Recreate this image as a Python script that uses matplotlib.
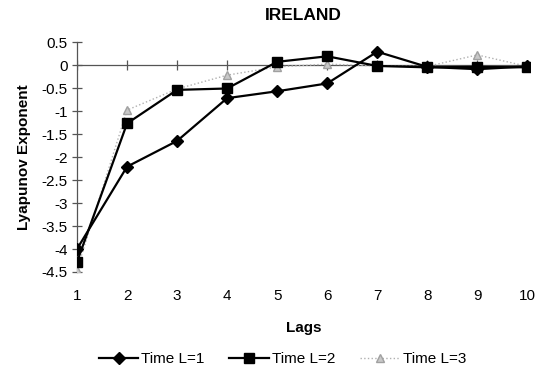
import numpy as np
import matplotlib.pyplot as plt

plt.rcParams['font.family'] = ['Liberation Sans', 'DejaVu Sans']

# data
lags = [1, 2, 3, 4, 5, 6, 7, 8, 9, 10]
time_l1 = [-4.0, -2.21, -1.65, -0.72, -0.57, -0.40, 0.29, -0.04, -0.09, -0.03]
time_l2 = [-4.28, -1.27, -0.54, -0.51, 0.07, 0.19, -0.02, -0.05, -0.04, -0.05]
time_l3 = [-4.45, -0.98, -0.52, -0.22, -0.04, 0.02, -0.02, -0.03, 0.22, -0.03]
yticks = [0.5, 0, -0.5, -1, -1.5, -2, -2.5, -3, -3.5, -4, -4.5]

fig = plt.figure(figsize=(5.43, 3.65), dpi=100)
ax = fig.add_axes([0.1418, 0.2548, 0.834, 0.630])

ax.plot(lags, time_l3, color='#b0b0b0', lw=1.0, ls=':', marker='^', ms=6,
        mfc='#c8c8c8', mec='#a0a0a0', label='Time L=3', zorder=3)
ax.plot(lags, time_l2, color='black', lw=1.6, marker='s', ms=7,
        label='Time L=2', zorder=4)
ax.plot(lags, time_l1, color='black', lw=1.6, marker='D', ms=6,
        label='Time L=1', zorder=5)

# category axis crosses at zero
ax.axhline(0, color='#555555', lw=0.9, zorder=1)
ax.plot(lags, [0] * len(lags), ls='none', marker='|', ms=7, color='#555555',
        mew=0.9, zorder=1)

ax.set_xlim(1, 10.05)
ax.set_ylim(-4.5, 0.5)
ax.set_xticks(lags)
ax.set_yticks(yticks)
ax.set_yticklabels([('%g' % v) for v in yticks])
ax.tick_params(axis='x', length=0, pad=12, labelsize=11)
ax.tick_params(axis='y', direction='inout', length=7, width=0.9,
               color='#555555', labelsize=11, pad=3)
for s in ['top', 'right', 'bottom']:
    ax.spines[s].set_visible(False)
ax.spines['left'].set_color('#555555')
ax.spines['left'].set_linewidth(0.9)

ax.set_title('IRELAND', fontweight='bold', fontsize=12.5, pad=16)
ax.set_xlabel('Lags', fontweight='bold', fontsize=11, labelpad=13)
ax.set_ylabel('Lyapunov Exponent', fontweight='bold', fontsize=11, labelpad=8)

h, l = ax.get_legend_handles_labels()
fig.legend(h[::-1], l[::-1], loc='lower center', ncol=3, frameon=False,
           bbox_to_anchor=(0.52, -0.04), fontsize=11, handlelength=2.6,
           columnspacing=1.6, handletextpad=0.2)

plt.savefig('out.png', dpi=100)
